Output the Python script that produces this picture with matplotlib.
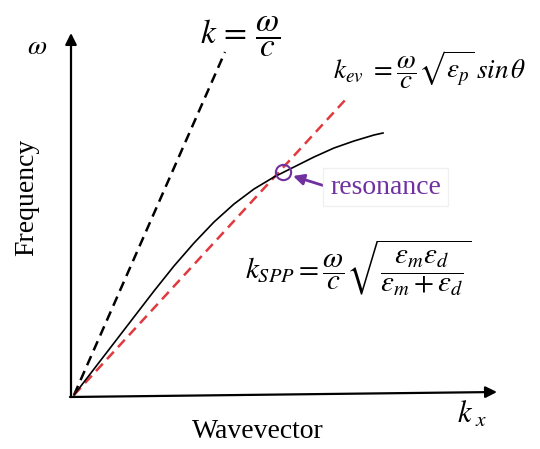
"""
Dispersion sketch: light line, evanescent line and SPP curve with the resonance point.
"""
import matplotlib
matplotlib.use('Agg')
from matplotlib import pyplot as plt

plt.rcParams['mathtext.fontset'] = 'stix'
plt.rcParams['font.family'] = ['Liberation Serif', 'DejaVu Serif']

# light line k = w/c
light_kx = [0.0, 1.51]
light_w = [0.0, 3.43]

# evanescent line k_ev
ev_kx = [0.0, 2.73]
ev_w = [0.0, 2.97]

# SPP dispersion curve
spp_kx = [0.0, 0.2, 0.4, 0.6, 0.8, 1.0, 1.2, 1.4, 1.6, 1.8, 2.0, 2.2, 2.4, 2.6, 2.8, 3.0, 3.09]
spp_w = [0.0, 0.26, 0.52, 0.78, 1.04, 1.29, 1.52, 1.73, 1.91, 2.06, 2.18, 2.28, 2.38, 2.47, 2.54, 2.60, 2.62]

# resonance point
res_kx = 2.09
res_w = 2.23

purple = '#7030a0'
red = '#e0393e'

fig = plt.figure(figsize=(5.40, 4.49), dpi=100)
ax = fig.add_axes([0, 0, 1, 1])
ax.set_xlim(-0.74, 4.66)
ax.set_ylim(-0.54, 3.95)
ax.axis('off')

# axes arrows
arrow = dict(arrowstyle='-|>', color='black', lw=1.6, mutation_scale=17, shrinkA=0, shrinkB=0)
ax.annotate('', xy=(-0.03, 3.62), xytext=(-0.03, -0.02), arrowprops=arrow)
ax.annotate('', xy=(4.23, 0.03), xytext=(-0.04, -0.02), arrowprops=arrow)

ax.plot(light_kx, light_w, color='black', lw=1.8, ls=(0, (4, 2.5)))
ax.plot(ev_kx, ev_w, color=red, lw=1.8, ls=(0, (4, 2.5)))
ax.plot(spp_kx, spp_w, color='black', lw=1.2)

ax.plot([res_kx], [res_w], marker='o', ms=11, mfc='none', mec=purple, mew=1.5)
ax.annotate('', xy=(res_kx + 0.1, res_w - 0.04), xytext=(2.54, 2.08),
            arrowprops=dict(arrowstyle='-|>', color=purple, lw=2, mutation_scale=16,
                            shrinkA=0, shrinkB=0))
ax.text(2.56, 2.08, 'resonance', color=purple, fontsize=20, ha='left', va='center',
        bbox=dict(boxstyle='square,pad=0.25', fc='white', ec='#f0f0f0', lw=1))

# labels
ax.text(-0.37, 3.47, r'$\omega$', fontsize=20, ha='center', va='center')
ax.text(-0.47, 1.98, 'Frequency', fontsize=20, rotation=90, ha='center', va='center')
ax.text(1.84, -0.37, 'Wavevector', fontsize=20, ha='center', va='center')
ax.text(3.98, -0.20, r'$k_{\ x}$', fontsize=22, ha='center', va='center')

# formulas
ax.text(1.66, 3.58, r'$k\,=\,\dfrac{\omega}{c}$', fontsize=24, ha='center', va='center')
ax.text(2.59, 3.25, r'$k_{ev}\ =\dfrac{\omega}{c}\sqrt{\varepsilon_p}\,sin\,\theta$',
        fontsize=19.5, ha='left', va='center')
ax.text(1.71, 1.27, r'$k_{SPP}=\dfrac{\omega}{c}\sqrt{\dfrac{\varepsilon_m\varepsilon_d}{\varepsilon_m+\varepsilon_d}}$',
        fontsize=21, ha='left', va='center')

fig.savefig('out.png', dpi=100)
